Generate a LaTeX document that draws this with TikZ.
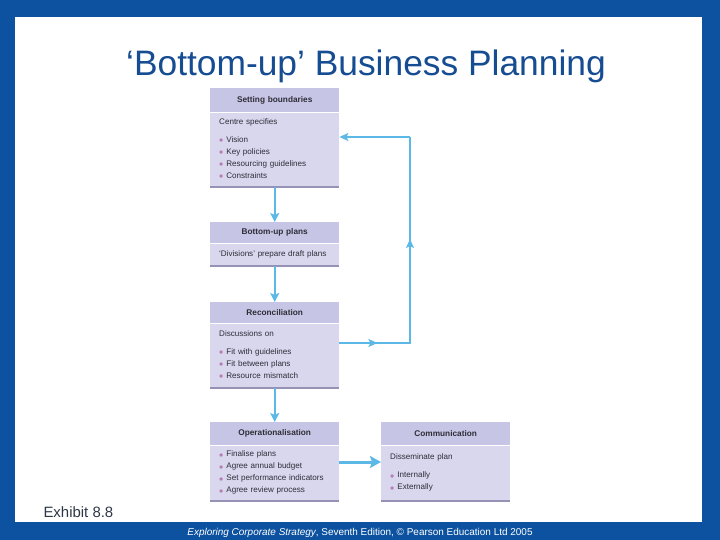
\documentclass[tikz,border=0pt]{standalone}
\usepackage{fontspec}
\setmainfont{Liberation Sans}
\usepackage{xcolor}
\usetikzlibrary{arrows.meta, positioning}
\definecolor{slideblue}{RGB}{12,82,160}
\definecolor{titleblue}{RGB}{22,76,146}
\definecolor{headlav}{RGB}{199,197,229}
\definecolor{bodylav}{RGB}{217,215,238}
\definecolor{boxshade}{RGB}{150,146,182}
\definecolor{flowblue}{RGB}{92,184,230}
\definecolor{dotpink}{RGB}{180,126,180}
\definecolor{boxtext}{RGB}{45,45,55}
\definecolor{exhibitgrey}{RGB}{45,55,70}
\newcommand{\pinkdot}{{\color{dotpink}\raisebox{-2.4bp}{\fontsize{12}{12}\selectfont\textbullet}}\hspace{3bp}}
\tikzstyle{headbox} = [anchor=north west, fill=headlav, inner sep=0pt, minimum width=129bp, text width=129bp, align=center, text=boxtext, font=\fontsize{8.3}{9}\selectfont\bfseries]
\tikzstyle{bodybox} = [fill=bodylav, inner xsep=9bp, inner ysep=0pt, text width=111bp, align=left, text=boxtext, font=\fontsize{8.1}{12}\selectfont]
\tikzstyle{flow} = [-{Stealth[length=9bp, width=9bp, inset=2bp]}, line width=1.8bp, draw=flowblue]
\tikzstyle{loopline} = [line width=1.4bp, draw=flowblue]
\tikzstyle{looptip} = [-{Stealth[length=9bp, width=8bp, inset=2bp]}]

\begin{document}
\begin{tikzpicture}[x=1bp, y=-1bp]
            \useasboundingbox (0,0) rectangle (720,540);
            % slide frame
            \fill[slideblue] (0,0) rectangle (720,540);
            \fill[white] (15,17) rectangle (702,522);
            \node[font=\fontsize{35.5}{40}\selectfont, text=titleblue, anchor=base] (title) at (366,76)
                {‘Bottom-up’ Business Planning};

            % left column
            \node[headbox, minimum height=24bp] (sbhead) at (210,88) {Setting boundaries};
            \node[bodybox, minimum height=74bp, below=0pt of sbhead] (sbbody)
                {Centre specifies\\[6bp]
                 \pinkdot Vision\\
                 \pinkdot Key policies\\
                 \pinkdot Resourcing guidelines\\
                 \pinkdot Constraints\\[6bp]};

            \node[headbox, minimum height=21bp] (bphead) at (210,222) {Bottom-up plans};
            \node[bodybox, minimum height=22bp, below=0pt of bphead] (bpbody)
                {‘Divisions’ prepare draft plans};

            \node[headbox, minimum height=21bp] (rchead) at (210,302) {Reconciliation};
            \node[bodybox, minimum height=64bp, below=0pt of rchead] (rcbody)
                {Discussions on\\[6bp]
                 \pinkdot Fit with guidelines\\
                 \pinkdot Fit between plans\\
                 \pinkdot Resource mismatch\\[4bp]};

            \node[headbox, minimum height=23bp] (ophead) at (210,422) {Operationalisation};
            \node[bodybox, minimum height=55bp, below=0pt of ophead] (opbody)
                {\pinkdot Finalise plans\\
                 \pinkdot Agree annual budget\\
                 \pinkdot Set performance indicators\\
                 \pinkdot Agree review process\\[1bp]};

            % right box
            \node[headbox, minimum height=23bp] (cmhead) at (381,422) {Communication};
            \node[bodybox, minimum height=55bp, below=0pt of cmhead] (cmbody)
                {Disseminate plan\\[6bp]
                 \pinkdot Internally\\
                 \pinkdot Externally\\[19bp]};

            % rules and shadows
            \foreach \b in {sb, bp, rc, op, cm} {
                \draw[white, line width=1bp] (\b head.south west) -- (\b head.south east);
                \draw[boxshade, line width=1.5bp] (\b body.south west) -- (\b body.south east);
            }

            % main flow
            \draw[flow] (sbbody.south) -- (bphead.north);
            \draw[flow] (bpbody.south) -- (rchead.north);
            \draw[flow] (rcbody.south) -- (ophead.north);
            \draw[-{Stealth[length=11bp, width=12bp, inset=2bp]}, line width=3bp, draw=flowblue]
                (opbody.east |- 0,462) -- (cmbody.west |- 0,462);

            % feedback loop
            \coordinate (loopbr) at (410,343);
            \coordinate (looptr) at (410,137);
            \draw[loopline] (loopbr -| rcbody.east) -- (loopbr) -- (looptr);
            \draw[loopline, looptip] (loopbr -| rcbody.east) -- ++(38,0);
            \draw[loopline, looptip] (loopbr) -- ++(0,-104);
            \draw[loopline, looptip] (looptr) -- (looptr -| sbbody.east);

            % captions
            \node[anchor=base west, font=\fontsize{15}{18}\selectfont, text=exhibitgrey] (exhibit)
                at (40,517) {Exhibit 8.8};
            \node[anchor=base, font=\fontsize{10}{11}\selectfont, text=white] (footer)
                at (360,535) {\textit{Exploring Corporate Strategy}, Seventh Edition, © Pearson Education Ltd 2005};
        \end{tikzpicture}
\end{document}
